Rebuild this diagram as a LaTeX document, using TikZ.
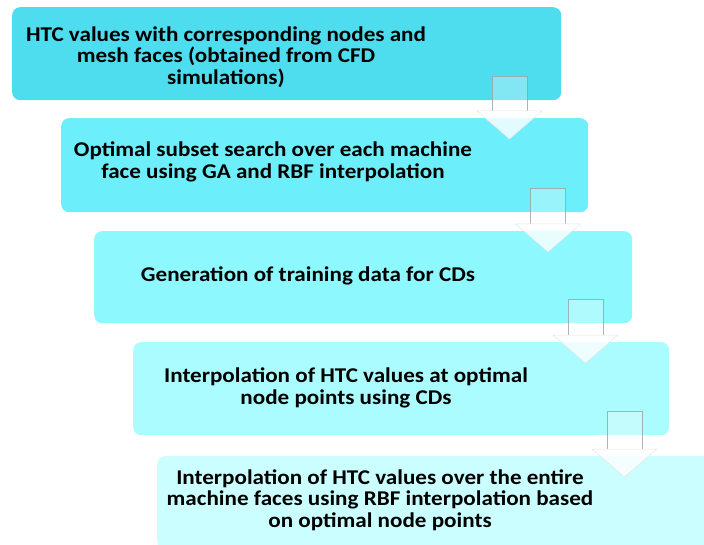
\documentclass[tikz,border=0pt]{standalone}
\usepackage{fontspec}
\setmainfont[FakeStretch=1.1]{Carlito}
\usetikzlibrary{calc}
\definecolor{stepA}{HTML}{4DDDEF}
\definecolor{stepB}{HTML}{6CEFFA}
\definecolor{stepC}{HTML}{8DF8FD}
\definecolor{stepD}{HTML}{ABFCFE}
\definecolor{stepE}{HTML}{CBFEFF}
% block arrow: #1 shaft centre x, #2 box above, #3 box below
\newcommand{\flowarrow}[3]{%
  \path let \p1=(#2.south), \p2=(#3.north) in
    [arrowshaft] ({#1pt-17.5pt},{\y2+7pt}) -- ({#1pt-17.5pt},{\y1+24pt})
      -- ({#1pt+17.5pt},{\y1+24pt}) -- ({#1pt+17.5pt},{\y2+7pt});
  \path let \p2=(#3.north) in
    [arrowhead] ({#1pt-32.5pt},{\y2+7pt}) -- ({#1pt},{\y2-21pt})
      -- ({#1pt+32.5pt},{\y2+7pt}) -- cycle;
}
\begin{document}
\begin{tikzpicture}[x=1pt,y=-1pt,
    stagebox/.style={rounded corners=8pt, inner sep=0pt, anchor=north west},
    steptext/.style={font=\bfseries\fontsize{21}{21.5}\selectfont, align=center},
    arrowshaft/.style={draw=gray!75, line width=0.8pt, fill=white, fill opacity=0.3, draw opacity=0.8},
    arrowhead/.style={draw=white!80!gray, line width=0.5pt, fill=white, fill opacity=0.8}]
    \clip (0,0) rectangle (704,545);
    % HTC values box
    \node[stagebox, fill=stepA, minimum width=549pt, minimum height=93pt] (b1) at (12,7) {};
    \node[steptext] (t1) at (226,57) {HTC values with corresponding nodes and\\mesh faces (obtained from CFD\\simulations)};
    % Subset search box
    \node[stagebox, fill=stepB, minimum width=527pt, minimum height=94pt] (b2) at (61,118) {};
    \node[steptext] (t2) at (273,162) {Optimal subset search over each machine\\face using GA and RBF interpolation};
    % Training data box
    \node[stagebox, fill=stepC, minimum width=538pt, minimum height=92pt] (b3) at (94,231) {};
    \node[steptext] (t3) at (308,276) {Generation of training data for CDs};
    % CD interpolation box
    \node[stagebox, fill=stepD, minimum width=536pt, minimum height=93pt] (b4) at (133,342) {};
    \node[steptext] (t4) at (346,388) {Interpolation of HTC values at optimal\\node points using CDs};
    % RBF interpolation box
    \node[stagebox, fill=stepE, minimum width=560pt, minimum height=93pt] (b5) at (157,456) {};
    \node[steptext] (t5) at (380,500) {Interpolation of HTC values over the entire\\machine faces using RBF interpolation based\\on optimal node points};
    % Arrows
    \flowarrow{509.5}{b1}{b2}
    \flowarrow{548}{b2}{b3}
    \flowarrow{585.5}{b3}{b4}
    \flowarrow{624.5}{b4}{b5}
\end{tikzpicture}
\end{document}
